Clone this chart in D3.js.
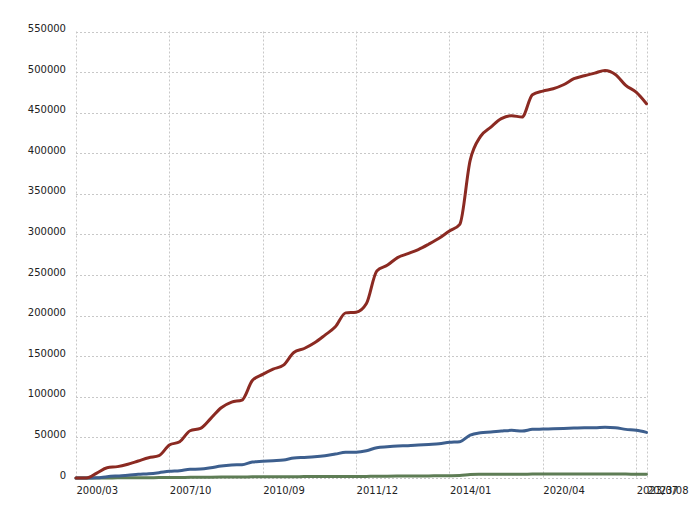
<!DOCTYPE html>
<html>
<head>
<meta charset="utf-8">
<script src="https://cdn.jsdelivr.net/npm/d3@7"></script>
<style>
  html, body { margin: 0; padding: 0; background: #fff; }
  svg { display: block; font-family: "DejaVu Sans", sans-serif; }
</style>
</head>
<body>
<svg id="chart" width="700" height="512"></svg>
<script>
// Tick labels shown on the x axis and the point index each belongs to
const tickIndex = [0, 9, 18, 27, 36, 45, 54, 55];
const tickLabels = ["2000/03", "2007/10", "2010/09", "2011/12", "2014/01", "2020/04", "2023/07", "2023/08"];

// Series values (56 points each)
const seriesRed = [
  0, 0, 6000, 12700, 14000, 17000, 21000, 25000, 27500, 40600,
  44700, 58200, 61100, 73500, 86500, 93500, 96000, 120000, 127600, 134100,
  139000, 154600, 159500, 166500, 176000, 186200, 203400, 204200, 214900, 255100,
  262000, 271500, 276400, 281400, 288000, 295300, 304300, 312500, 391300, 420800,
  432300, 442600, 446300, 444600, 472100, 476600, 479500, 484400, 491800, 495500,
  498700, 502000, 497100, 483600, 475300, 461000
];
const seriesBlue = [
  0, 0, 300, 1600, 2500, 3300, 4500, 5300, 6600, 8200,
  9000, 10700, 11100, 12700, 14800, 16000, 16400, 19700, 20500, 21300,
  22100, 24600, 25400, 26200, 27500, 29500, 31600, 31800, 33600, 37300,
  38500, 39400, 39800, 40600, 41400, 42200, 43900, 44700, 52900, 55700,
  56600, 57800, 58700, 57800, 59900, 60300, 60700, 61100, 61500, 61900,
  61900, 62400, 61900, 59900, 58700, 56200
];
const seriesGreen = [
  0, 0, 0, 100, 200, 300, 350, 400, 500, 600,
  700, 800, 900, 1000, 1100, 1200, 1300, 1400, 1500, 1550,
  1600, 1650, 1700, 1750, 1800, 1850, 1900, 1950, 2000, 2200,
  2300, 2400, 2450, 2500, 2600, 2700, 2800, 3000, 4200, 4500,
  4600, 4700, 4700, 4700, 4800, 4800, 4900, 4900, 5000, 5000,
  5000, 5000, 5000, 4800, 4700, 4500
];
const yTicks = [0, 50000, 100000, 150000, 200000, 250000, 300000, 350000, 400000, 450000, 500000, 550000];

const series = [
  { name: "green", values: seriesGreen, color: "#5e7d55" },
  { name: "blue", values: seriesBlue, color: "#3d5f8e" },
  { name: "red", values: seriesRed, color: "#8b2a22" }
];

const svg = d3.select("#chart");
const mLeft = 76, mRight = 646.5, mTop = 31.5, mBottom = 478;

const x = d3.scaleLinear().domain([0, seriesRed.length - 1]).range([mLeft, mRight]);
const y = d3.scaleLinear().domain([0, 550000]).range([mBottom, mTop]);

// horizontal grid
svg.append("g").selectAll("line").data(yTicks).join("line")
  .attr("x1", mLeft).attr("x2", mRight)
  .attr("y1", d => Math.round(y(d)) + 0.5).attr("y2", d => Math.round(y(d)) + 0.5)
  .attr("stroke", "#c8c8c8").attr("stroke-width", 1).attr("stroke-dasharray", "2,2");

// vertical grid
svg.append("g").selectAll("line").data(tickIndex).join("line")
  .attr("x1", d => Math.round(x(d)) + 0.5).attr("x2", d => Math.round(x(d)) + 0.5)
  .attr("y1", mTop).attr("y2", mBottom)
  .attr("stroke", "#c8c8c8").attr("stroke-width", 1).attr("stroke-dasharray", "2,2");

// y axis labels
const yAxis = d3.axisLeft(y).tickValues(yTicks).tickSize(0).tickPadding(10).tickFormat(d => String(d));
const yg = svg.append("g").attr("transform", `translate(${mLeft},0)`).call(yAxis);
yg.select(".domain").remove();
yg.selectAll("text").attr("font-size", 10).attr("font-family", "DejaVu Sans, sans-serif")
  .attr("fill", "#222").attr("dy", "0").attr("y", 0);

// x axis labels
const xAxis = d3.axisBottom(x).tickValues(tickIndex).tickSize(0).tickPadding(9)
  .tickFormat((d, i) => tickLabels[i]);
const xg = svg.append("g").attr("transform", `translate(0,${mBottom})`).call(xAxis);
xg.select(".domain").remove();
xg.selectAll("text").attr("font-size", 10).attr("font-family", "DejaVu Sans, sans-serif")
  .attr("fill", "#222").attr("text-anchor", "start");

// lines
const line = d3.line().x((d, i) => x(i)).y(d => y(d)).curve(d3.curveMonotoneX);
svg.append("g").selectAll("path").data(series).join("path")
  .attr("d", d => line(d.values))
  .attr("fill", "none")
  .attr("stroke", d => d.color)
  .attr("stroke-width", 3)
  .attr("stroke-linejoin", "round")
  .attr("stroke-linecap", "round");
</script>
</body>
</html>
